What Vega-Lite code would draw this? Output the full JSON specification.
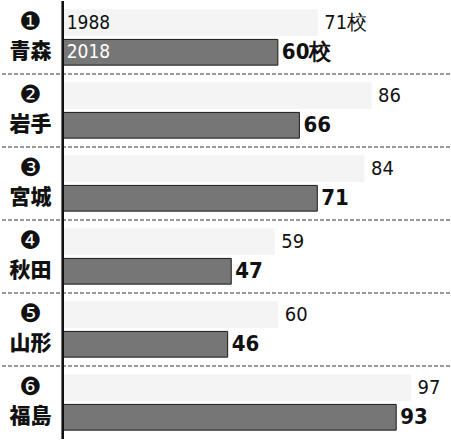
{
  "$schema": "https://vega.github.io/schema/vega-lite/v6.json",
  "width": 451,
  "height": 440,
  "autosize": {"type": "fit", "contains": "padding"},
  "padding": 0,
  "background": "white",
  "config": {"view": {"stroke": null}},
  "data": {
    "values": [
      {"pref": "青森", "rank": "❶", "year": "1988", "value": 71},
      {"pref": "青森", "rank": "❶", "year": "2018", "value": 60},
      {"pref": "岩手", "rank": "❷", "year": "1988", "value": 86},
      {"pref": "岩手", "rank": "❷", "year": "2018", "value": 66},
      {"pref": "宮城", "rank": "❸", "year": "1988", "value": 84},
      {"pref": "宮城", "rank": "❸", "year": "2018", "value": 71},
      {"pref": "秋田", "rank": "❹", "year": "1988", "value": 59},
      {"pref": "秋田", "rank": "❹", "year": "2018", "value": 47},
      {"pref": "山形", "rank": "❺", "year": "1988", "value": 60},
      {"pref": "山形", "rank": "❺", "year": "2018", "value": 46},
      {"pref": "福島", "rank": "❻", "year": "1988", "value": 97},
      {"pref": "福島", "rank": "❻", "year": "2018", "value": 93}
    ]
  },
  "transform": [
    {"calculate": "datum.value + (datum.pref === '青森' ? '校' : '')", "as": "label"}
  ],
  "encoding": {
    "y": {
      "field": "pref", "type": "nominal", "axis": null,
      "scale": {"domain": ["青森", "岩手", "宮城", "秋田", "山形", "福島"], "paddingInner": 0, "paddingOuter": 0}
    }
  },
  "layer": [
    {
      "mark": {"type": "bar", "orient": "horizontal"},
      "encoding": {
        "x": {"field": "value", "type": "quantitative", "axis": null, "scale": {"domain": [-17.2, 108], "nice": false, "zero": false}},
        "x2": {"datum": 0},
        "yOffset": {"field": "year", "type": "nominal", "scale": {"domain": ["1988", "2018"], "paddingInner": 0.13, "paddingOuter": 0.3}},
        "color": {"field": "year", "type": "nominal", "legend": null, "scale": {"domain": ["1988", "2018"], "range": ["#f4f4f4", "#767676"]}},
        "stroke": {"field": "year", "type": "nominal", "legend": null, "scale": {"domain": ["1988", "2018"], "range": ["#f4f4f4", "#1a1a1a"]}}
      }
    },
    {
      "transform": [{"filter": "datum.year === '1988'"}],
      "mark": {"type": "text", "align": "left", "baseline": "middle", "dx": 7, "fontSize": 20, "font": "DejaVu Sans Condensed, Liberation Sans Narrow, Liberation Sans", "color": "#111"},
      "encoding": {
        "x": {"field": "value", "type": "quantitative"},
        "yOffset": {"field": "year", "type": "nominal"},
        "text": {"field": "label"}
      }
    },
    {
      "transform": [{"filter": "datum.year === '2018'"}],
      "mark": {"type": "text", "align": "left", "baseline": "middle", "dx": 4, "fontSize": 22, "fontWeight": "bold", "font": "DejaVu Sans Condensed, Liberation Sans Narrow, Liberation Sans", "color": "#111"},
      "encoding": {
        "x": {"field": "value", "type": "quantitative"},
        "yOffset": {"field": "year", "type": "nominal"},
        "text": {"field": "label"}
      }
    },
    {
      "transform": [{"filter": "datum.pref === '青森' && datum.year === '1988'"}],
      "mark": {"type": "text", "align": "left", "baseline": "middle", "dx": 4, "fontSize": 19, "font": "DejaVu Sans Condensed, Liberation Sans Narrow, Liberation Sans", "color": "#111"},
      "encoding": {
        "x": {"datum": 0},
        "yOffset": {"field": "year", "type": "nominal"},
        "text": {"field": "year"}
      }
    },
    {
      "transform": [{"filter": "datum.pref === '青森' && datum.year === '2018'"}],
      "mark": {"type": "text", "align": "left", "baseline": "middle", "dx": 4, "fontSize": 19, "font": "DejaVu Sans Condensed, Liberation Sans Narrow, Liberation Sans", "color": "#ffffff"},
      "encoding": {
        "x": {"datum": 0},
        "yOffset": {"field": "year", "type": "nominal"},
        "text": {"field": "year"}
      }
    },
    {
      "transform": [{"filter": "datum.year === '1988'"}],
      "mark": {"type": "text", "align": "center", "baseline": "middle", "fontSize": 25, "dy": -1, "font": "DejaVu Sans", "color": "#111"},
      "encoding": {
        "x": {"datum": -9},
        "yOffset": {"datum": "1988"},
        "text": {"field": "rank"}
      }
    },
    {
      "transform": [{"filter": "datum.year === '2018'"}],
      "mark": {"type": "text", "align": "center", "baseline": "middle", "fontSize": 21, "dy": 0, "fontWeight": 900, "font": "Noto Sans CJK JP", "color": "#111"},
      "encoding": {
        "x": {"datum": -9},
        "yOffset": {"datum": "2018"},
        "text": {"field": "pref"}
      }
    },
    {
      "transform": [{"filter": "datum.year === '1988' && datum.pref !== '福島'"}],
      "mark": {"type": "rule", "strokeDash": [4, 2], "color": "#333", "strokeWidth": 1},
      "encoding": {
        "y": {"field": "pref", "type": "nominal", "bandPosition": 1}
      }
    },
    {
      "mark": {"type": "rule", "color": "#111", "strokeWidth": 1.5},
      "encoding": {
        "x": {"datum": 0},
        "y": null
      }
    }
  ]
}
